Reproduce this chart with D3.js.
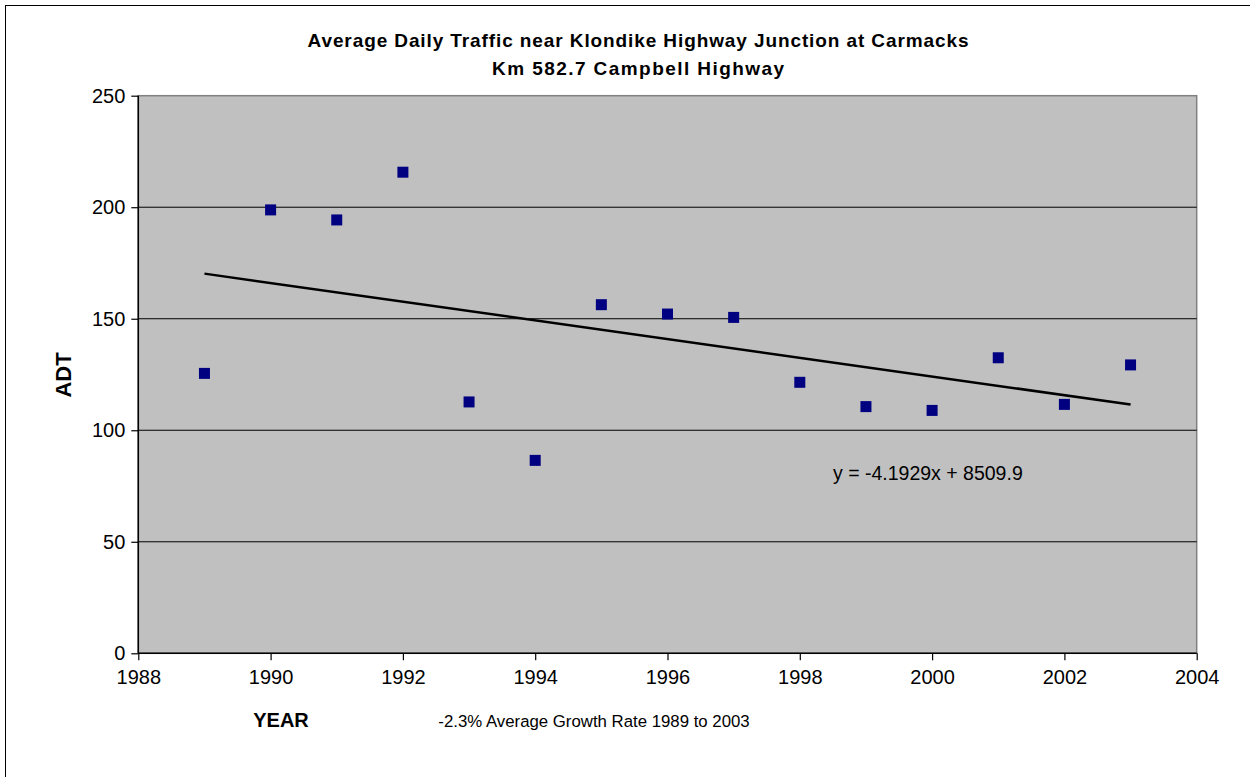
<!DOCTYPE html>
<html>
<head>
<meta charset="utf-8">
<script src="https://cdn.jsdelivr.net/npm/d3@7"></script>
<style>
  body { margin: 0; background: #fff; }
  svg text { font-family: "Liberation Sans", Arial, sans-serif; fill: #000; }
</style>
</head>
<body>
<div id="chart"></div>
<script>
// ADT readings per year
var years = [1989, 1990, 1991, 1992, 1993, 1994, 1995, 1996, 1997, 1998, 1999, 2000, 2001, 2002, 2003];
var adt = [125.5, 198.8, 194.3, 215.7, 112.7, 86.5, 156.3, 152.1, 150.6, 121.5, 110.6, 108.9, 132.5, 111.6, 129.3];

// linear trend shown on the chart
var trendSlope = -4.1929;
var trendIntercept = 8509.9;

var xTicks = [1988, 1990, 1992, 1994, 1996, 1998, 2000, 2002, 2004];
var yTicks = [0, 50, 100, 150, 200, 250];

var titleLines = ["Average Daily Traffic near Klondike Highway Junction at Carmacks", "Km 582.7 Campbell Highway"];
var growthNote = "-2.3% Average Growth Rate 1989 to 2003";

var W = 1250, H = 777;
var plot = {left: 138.3, right: 1196.7, top: 95.7, bottom: 653.3};

var svg = d3.select("#chart").append("svg")
    .attr("width", W)
    .attr("height", H);

// outer chart border (only left/top edges fall inside the picture)
svg.append("rect")
    .attr("x", 5.5).attr("y", 5.5)
    .attr("width", 1300).attr("height", 900)
    .attr("fill", "none").attr("stroke", "#000").attr("stroke-width", 1);

var x = d3.scaleLinear().domain([1988, 2004]).range([plot.left, plot.right]);
var y = d3.scaleLinear().domain([0, 250]).range([plot.bottom, plot.top]);

// plot area
svg.append("rect")
    .attr("x", plot.left).attr("y", plot.top)
    .attr("width", plot.right - plot.left).attr("height", plot.bottom - plot.top)
    .attr("fill", "#c0c0c0").attr("stroke", "#808080").attr("stroke-width", 1.5);

// gridlines
svg.append("g").selectAll("line")
    .data(yTicks.filter(function(d) { return d > 0 && d < 250; }))
    .enter().append("line")
    .attr("x1", plot.left).attr("x2", plot.right)
    .attr("y1", function(d) { return y(d); })
    .attr("y2", function(d) { return y(d); })
    .attr("stroke", "#000").attr("stroke-width", 1);

// axes
var xAxis = d3.axisBottom(x).tickValues(xTicks).tickFormat(d3.format("d")).tickSize(7).tickPadding(10);
var yAxis = d3.axisLeft(y).tickValues(yTicks).tickSize(7).tickPadding(6);

var gx = svg.append("g").attr("transform", "translate(0," + plot.bottom + ")").call(xAxis);
var gy = svg.append("g").attr("transform", "translate(" + plot.left + ",0)").call(yAxis);

[gx, gy].forEach(function(g) {
  g.select(".domain").attr("stroke", "#000").attr("stroke-width", 1.5);
  g.selectAll(".tick line").attr("stroke", "#000").attr("stroke-width", 1.2);
  g.selectAll(".tick text").attr("font-size", "20px").attr("fill", "#000")
    .style("font-family", "'Liberation Sans', Arial, sans-serif");
});
gy.select(".domain").attr("d", "M0," + plot.bottom + "V" + plot.top);
gx.select(".domain").attr("d", "M" + plot.left + ",0H" + plot.right);

// trend line
var trend = function(t) { return trendSlope * t + trendIntercept; };
svg.append("line")
    .attr("x1", x(years[0])).attr("y1", y(trend(years[0])))
    .attr("x2", x(years[years.length - 1])).attr("y2", y(trend(years[years.length - 1])))
    .attr("stroke", "#000").attr("stroke-width", 2.5);

// data markers
var ms = 11;
svg.append("g").selectAll("rect")
    .data(years)
    .enter().append("rect")
    .attr("x", function(d) { return x(d) - ms / 2; })
    .attr("y", function(d, i) { return y(adt[i]) - ms / 2; })
    .attr("width", ms).attr("height", ms)
    .attr("fill", "#000080");

// trend equation
svg.append("text")
    .attr("x", 833).attr("y", 480)
    .attr("font-size", "19.5px")
    .text("y = " + trendSlope + "x + " + trendIntercept);

// title (Excel spreads the letters a little wider)
var titleWidths = [661, 292];
svg.append("g").selectAll("text")
    .data(titleLines)
    .enter().append("text")
    .attr("x", 638)
    .attr("y", function(d, i) { return 47 + i * 28; })
    .attr("text-anchor", "middle")
    .attr("font-weight", "bold")
    .attr("font-size", "19px")
    .attr("textLength", function(d, i) { return titleWidths[i]; })
    .attr("lengthAdjust", "spacing")
    .text(function(d) { return d; });

// axis titles
svg.append("text")
    .attr("transform", "translate(71,375) rotate(-90)")
    .attr("text-anchor", "middle")
    .attr("font-weight", "bold")
    .attr("font-size", "22px")
    .text("ADT");

svg.append("text")
    .attr("x", 281).attr("y", 727)
    .attr("text-anchor", "middle")
    .attr("font-weight", "bold")
    .attr("font-size", "20px")
    .text("YEAR");

svg.append("text")
    .attr("x", 594).attr("y", 727)
    .attr("text-anchor", "middle")
    .attr("font-size", "16.8px")
    .text(growthNote);
</script>
</body>
</html>
